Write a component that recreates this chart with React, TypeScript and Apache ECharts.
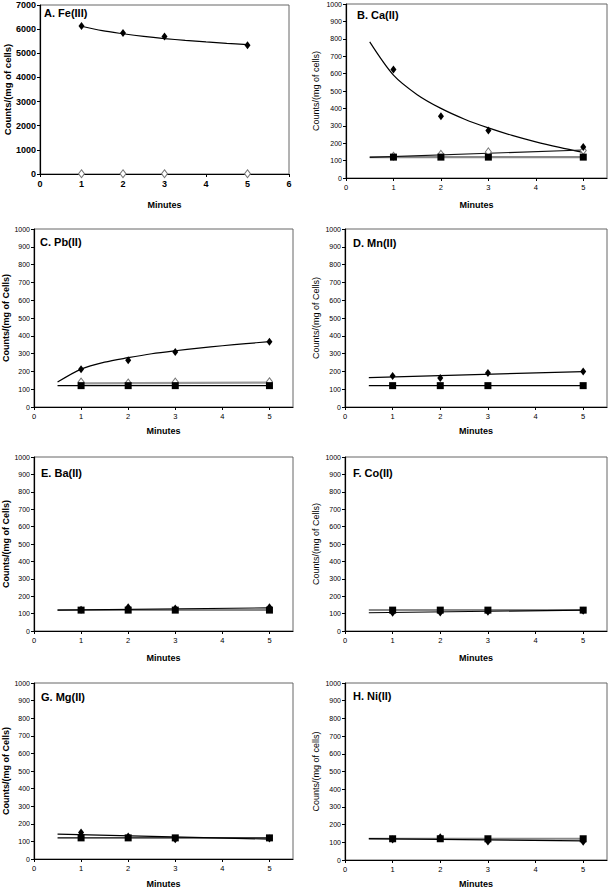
import React, { useEffect, useRef } from "react";
import * as echarts from "echarts";

// ---------- data ----------
const minutes = [1, 2, 3, 5];

const panelTitles = ["A. Fe(III)", "B. Ca(II)", "C. Pb(II)", "D. Mn(II)", "E. Ba(II)", "F. Co(II)", "G. Mg(II)", "H. Ni(II)"];
const yNames = [
  "Counts/(mg of cells)",
  "Counts/(mg of cells)",
  "Counts/(mg of Cells)",
  "Counts/(mg of Cells)",
  "Counts/(mg of Cells)",
  "Counts/(mg of Cells)",
  "Counts/(mg of Cells)",
  "Counts/(mg of cells)",
];

// filled diamonds
const feFilled = [6130, 5840, 5700, 5330];
const caFilled = [624, 355, 273, 178];
const pbFilled = [212, 262, 309, 367];
const mnFilled = [174, 163, 191, 199];
const baFilled = [122, 136, 130, 136];
const coFilled = [105, 106, 111, 117];
const mgFilled = [150, 128, 112, 116];
const niFilled = [116, 128, 104, 103];

// open diamonds
const feOpen = [10, 10, 10, 10];
const caOpen = [125, 136, 150, 158];
const pbOpen = [140, 135, 140, 142];

// filled squares
const squares = [120, 120, 120, 120];

// fitted trend curves
const feFitX = [1, 1.5, 2, 2.5, 3, 3.5, 4, 4.5, 5];
const feFitY = [6120, 5935, 5810, 5700, 5610, 5535, 5470, 5412, 5360];
const caFitX = [0.5, 1, 1.5, 2, 2.5, 3, 3.5, 4, 4.5, 5];
const caFitY = [782, 591, 479, 400, 338, 288, 245, 208, 176, 147];
const pbFitX = [0.5, 1, 1.5, 2, 2.5, 3, 3.5, 4, 4.5, 5];
const pbFitY = [140, 213, 252, 277, 299, 316, 331, 344, 356, 367];
const lineX = [0.5, 5];
const mnFitY = [165, 199];
const baFitY = [120, 133];
const coFitY = [105, 120];
const mgFitY = [141, 113];
const niFitY = [121, 108];
const caOpenFitY = [119, 161];
const pbOpenFitX = [1, 5];
const pbOpenFitY = [133, 137];
const squareFitY = [120, 120];

// ---------- layout ----------
const grids = [
  { left: 40, top: 5, width: 249, height: 169 },
  { left: 346, top: 4, width: 261, height: 174 },
  { left: 33, top: 229, width: 260, height: 178 },
  { left: 345, top: 229, width: 262, height: 178 },
  { left: 33, top: 457, width: 260, height: 174 },
  { left: 345, top: 457, width: 262, height: 174 },
  { left: 33, top: 683, width: 260, height: 177 },
  { left: 345, top: 683, width: 262, height: 178 },
];
const titlePos = [
  [44, 7], [357, 9], [40, 236], [353, 237], [41, 467], [353, 467], [41, 691], [353, 690],
];
const xNameGaps = [26, 22, 19, 19, 22, 22, 20, 19];
const yNameGaps = [27, 26, 24, 25, 24, 25, 24, 25];

const FONT = "'Liberation Sans', Arial, sans-serif";

function pairs(xs: number[], ys: number[]) {
  return xs.map((x, i) => [x, ys[i]]);
}

export default function App() {
  const ref = useRef<HTMLDivElement>(null);
  useEffect(() => {
    if (!ref.current) return;
    const chart = echarts.init(ref.current, undefined, { renderer: "svg" });

    const panels = [
      { filled: feFilled, open: feOpen, sq: null, fits: [{ x: feFitX, y: feFitY, c: "#000", w: 1.2, smooth: true }] },
      {
        filled: caFilled, open: caOpen, sq: squares,
        fits: [
          { x: lineX, y: squareFitY, c: "#888", w: 2.2, smooth: false },
          { x: caFitX, y: caFitY, c: "#000", w: 1.2, smooth: true },
          { x: lineX, y: caOpenFitY, c: "#111", w: 1.2, smooth: false },
        ],
      },
      {
        filled: pbFilled, open: pbOpen, sq: squares,
        fits: [
          { x: pbOpenFitX, y: pbOpenFitY, c: "#999", w: 2.2, smooth: false },
          { x: lineX, y: squareFitY, c: "#000", w: 1.2, smooth: false },
          { x: pbFitX, y: pbFitY, c: "#000", w: 1.2, smooth: true },
        ],
      },
      {
        filled: mnFilled, open: null, sq: squares,
        fits: [
          { x: lineX, y: squareFitY, c: "#000", w: 1.2, smooth: false },
          { x: lineX, y: mnFitY, c: "#000", w: 1.2, smooth: false },
        ],
      },
      {
        filled: baFilled, open: null, sq: squares,
        fits: [
          { x: lineX, y: squareFitY, c: "#888", w: 2, smooth: false },
          { x: lineX, y: baFitY, c: "#000", w: 1.2, smooth: false },
        ],
      },
      {
        filled: coFilled, open: null, sq: squares,
        fits: [
          { x: lineX, y: squareFitY, c: "#888", w: 2, smooth: false },
          { x: lineX, y: coFitY, c: "#000", w: 1.2, smooth: false },
        ],
      },
      {
        filled: mgFilled, open: null, sq: squares,
        fits: [
          { x: lineX, y: squareFitY, c: "#000", w: 1.2, smooth: false },
          { x: lineX, y: mgFitY, c: "#000", w: 1.2, smooth: false },
        ],
      },
      {
        filled: niFilled, open: null, sq: squares,
        fits: [
          { x: lineX, y: squareFitY, c: "#888", w: 2, smooth: false },
          { x: lineX, y: niFitY, c: "#000", w: 1.2, smooth: false },
        ],
      },
    ];

    const series: any[] = [];
    panels.forEach((p, i) => {
      p.fits.forEach((f) => {
        series.push({
          type: "line",
          xAxisIndex: i,
          yAxisIndex: i,
          data: pairs(f.x, f.y),
          symbol: "none",
          smooth: f.smooth ? 0.3 : false,
          lineStyle: { color: f.c, width: f.w },
          silent: true,
          z: 2,
        });
      });
      if (p.open) {
        series.push({
          type: "scatter",
          xAxisIndex: i,
          yAxisIndex: i,
          data: pairs(minutes, p.open),
          symbol: "diamond",
          symbolSize: [6, 8],
          itemStyle: { color: "#fff", borderColor: "#777", borderWidth: 1, opacity: 1 },
          z: 3,
        });
      }
      series.push({
        type: "scatter",
        xAxisIndex: i,
        yAxisIndex: i,
        data: pairs(minutes, p.filled),
        symbol: "diamond",
        symbolSize: [6, 8],
        itemStyle: { color: "#000", opacity: 1 },
        z: 4,
      });
      if (p.sq) {
        series.push({
          type: "scatter",
          xAxisIndex: i,
          yAxisIndex: i,
          data: pairs(minutes, p.sq),
          symbol: "rect",
          symbolSize: 7,
          itemStyle: { color: "#000", opacity: 1 },
          z: 5,
        });
      }
    });

    const plain = (v: number) => String(v);

    const option: any = {
      animation: false,
      backgroundColor: "#fff",
      title: panelTitles.map((t, i) => ({
        text: t,
        left: titlePos[i][0],
        top: titlePos[i][1],
        padding: 0,
        textStyle: { fontFamily: FONT, fontSize: 11, fontWeight: "bold", color: "#000" },
      })),
      grid: grids.map((g) => ({
        ...g,
        show: true,
        borderColor: "#666",
        borderWidth: 1,
        backgroundColor: "#fff",
        containLabel: false,
      })),
      xAxis: grids.map((_, i) => {
        const bold = i === 0;
        return {
          type: "value",
          gridIndex: i,
          min: 0,
          max: i === 0 ? 6 : 5.5,
          interval: 1,
          name: "Minutes",
          nameLocation: "middle",
          nameGap: xNameGaps[i],
          nameTextStyle: { fontFamily: FONT, fontSize: 9, fontWeight: "bold", color: "#000" },
          splitLine: { show: false },
          axisLine: { show: true, onZero: false, lineStyle: { color: "#000", width: 1.2 } },
          axisTick: { show: true, inside: false, length: 3, lineStyle: { color: "#000" } },
          axisLabel: {
            fontFamily: FONT,
            fontSize: bold ? 9 : 7.5,
            fontWeight: bold ? "bold" : "normal",
            color: "#000",
            margin: 5,
            showMaxLabel: i === 0,
            formatter: plain,
          },
        };
      }),
      yAxis: grids.map((_, i) => {
        const boldLabel = i === 0;
        const boldName = i % 2 === 0;
        return {
          type: "value",
          gridIndex: i,
          min: 0,
          max: i === 0 ? 7000 : 1000,
          interval: i === 0 ? 1000 : 100,
          name: yNames[i],
          nameLocation: "middle",
          nameGap: yNameGaps[i],
          nameTextStyle: {
            fontFamily: FONT,
            fontSize: i === 0 ? 9.5 : 9,
            fontWeight: boldName ? "bold" : "normal",
            color: "#000",
          },
          splitLine: { show: false },
          axisLine: { show: true, onZero: false, lineStyle: { color: "#000", width: 1.2 } },
          axisTick: { show: true, inside: false, length: 3, lineStyle: { color: "#000" } },
          axisLabel: {
            fontFamily: FONT,
            fontSize: boldLabel ? 9 : 7,
            fontWeight: boldLabel ? "bold" : "normal",
            color: "#000",
            margin: 4,
            formatter: plain,
          },
        };
      }),
      series,
    };

    chart.setOption(option);
    return () => chart.dispose();
  }, []);

  return (
    <div
      ref={ref}
      style={{ position: "absolute", left: 0, top: 0, width: 608, height: 889, background: "#fff" }}
    />
  );
}
